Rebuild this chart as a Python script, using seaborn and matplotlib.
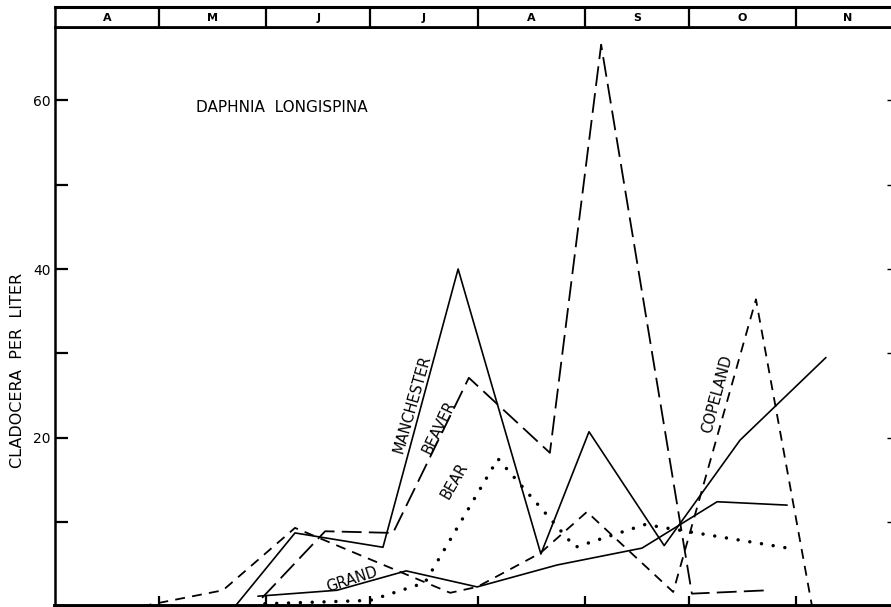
import matplotlib
matplotlib.use("Agg")
import matplotlib.pyplot as plt
import seaborn as sns
import pandas as pd

# ---- data (x = days since April 1, y = Cladocera per liter) ----
month_labels = ["A", "M", "J", "J", "A", "S", "O", "N"]
month_starts = [0, 30, 61, 91, 122, 153, 183, 214]
month_end = 244

manchester_day = [52.0, 69.3, 94.7, 116.4, 140.3, 154.2, 175.9, 197.8, 222.6]
manchester_val = [0.0, 8.7, 7.0, 40.0, 6.2, 20.7, 7.2, 19.7, 29.5]

beaver_day = [59.8, 78.0, 97.6, 119.5, 142.9, 157.7, 183.9, 205.9]
beaver_val = [1.0, 8.9, 8.7, 27.1, 18.2, 66.6, 1.5, 1.9]

copeland_day = [25.0, 48.5, 69.3, 114.1, 121.9, 140.1, 153.6, 178.5, 202.4, 218.6]
copeland_val = [0.0, 1.9, 9.3, 1.6, 2.3, 6.3, 11.2, 1.7, 36.4, 0.0]

bear_day = [60.6, 91.0, 106.8, 127.9, 150.2, 170.4, 211.7]
bear_val = [0.3, 0.7, 2.8, 17.5, 7.0, 9.7, 6.9]

grand_day = [58.6, 81.4, 101.4, 121.9, 145.0, 169.5, 191.2, 211.4]
grand_val = [1.2, 1.9, 4.2, 2.3, 4.9, 6.9, 12.4, 12.0]

y_ticks = [10, 20, 30, 40, 50, 60]
y_tick_labels = ["", "20", "", "40", "", "60"]

sns.set_theme(style="white")
plt.rcParams["font.family"] = ["DejaVu Sans"]
for k in ["text.color", "axes.labelcolor", "xtick.color", "ytick.color", "axes.edgecolor"]:
    plt.rcParams[k] = "black"

frames = []
for name, d, v in [("MANCHESTER", manchester_day, manchester_val),
                   ("BEAVER", beaver_day, beaver_val),
                   ("COPELAND", copeland_day, copeland_val),
                   ("BEAR", bear_day, bear_val),
                   ("GRAND", grand_day, grand_val)]:
    frames.append(pd.DataFrame({"day": d, "value": v, "lake": name}))
df = pd.concat(frames, ignore_index=True)

W, H = 891, 607
fig = plt.figure(figsize=(W / 100, H / 100), dpi=100)
fig.patch.set_facecolor("white")

x_max = 241.4
left = 55 / W
ax = fig.add_axes([left, 0.7 / H, 1 - left, (580 - 0.7) / H])
band = fig.add_axes([left, (H - 27) / H, 1 - left, 20 / H])

styles = {
    "MANCHESTER": dict(linestyle="-", lw=1.2),
    "GRAND": dict(linestyle="-", lw=1.2),
    "BEAVER": dict(linestyle=(0, (11, 4)), lw=1.3),
    "COPELAND": dict(linestyle=(0, (5.5, 4)), lw=1.3),
    "BEAR": dict(linestyle=(0, (0.01, 3.4)), lw=2.5, dash_capstyle="round"),
}
for lake, st in styles.items():
    sub = df[df["lake"] == lake]
    sns.lineplot(data=sub, x="day", y="value", color="black", ax=ax,
                 sort=False, estimator=None, legend=False, **st)

ax.set_xlim(0, x_max)
ax.set_ylim(0, 68.7)
ax.set_xlabel("")
ax.set_ylabel("")
ax.set_yticks(y_ticks)
ax.set_yticklabels(y_tick_labels, fontsize=10)
ax.set_xticks(month_starts[1:])
ax.set_xticklabels([])
ax.tick_params(axis="y", direction="in", length=9, width=1.6, pad=3,
               left=True, right=False)
ax.tick_params(axis="x", direction="in", length=7, width=1.6, bottom=True)
ax.spines["left"].set_linewidth(1.8)
ax.spines["bottom"].set_linewidth(2.8)
ax.spines["top"].set_linewidth(2.0)
ax.spines["right"].set_visible(False)

# faint short ticks on the right edge
ax_r = ax.twinx()
ax_r.set_ylim(ax.get_ylim())
ax_r.set_yticks(y_ticks)
ax_r.set_yticklabels([])
ax_r.tick_params(axis="y", direction="in", length=3, width=1.0, right=True)
for s in ax_r.spines.values():
    s.set_visible(False)
ax_r.grid(False)

# month band
band.set_xlim(0, x_max)
band.set_ylim(0, 1)
band.set_xticks([])
band.set_yticks([])
band.spines["right"].set_visible(False)
band.spines["top"].set_linewidth(2.2)
band.spines["bottom"].set_linewidth(2.0)
band.spines["left"].set_linewidth(1.8)
for ms in month_starts[1:]:
    band.axvline(ms, color="black", lw=1.6)
ends = month_starts[1:] + [month_end]
for lab, a, b in zip(month_labels, month_starts, ends):
    band.text((a + b) / 2, 0.45, lab, ha="center", va="center",
              fontsize=8, fontweight="bold")

# annotations
ax.text(65.5, 59.1, "DAPHNIA  LONGISPINA", ha="center", va="center", fontsize=11)
ax.text(103.2, 24.0, "MANCHESTER", ha="center", va="center", fontsize=10.5, rotation=74)
ax.text(110.8, 21.2, "BEAVER", ha="center", va="center", fontsize=10.5, rotation=64)
ax.text(115.3, 14.9, "BEAR", ha="center", va="center", fontsize=10.5, rotation=60)
ax.text(85.8, 3.2, "GRAND", ha="center", va="center", fontsize=10.5, rotation=18)
ax.text(191.2, 25.2, "COPELAND", ha="center", va="center", fontsize=10.5, rotation=75)

fig.text(18 / W, 1 - 370 / H, "CLADOCERA  PER  LITER", rotation=90,
         ha="center", va="center", fontsize=11.5)

fig.savefig("out.png", dpi=100, facecolor="white")
